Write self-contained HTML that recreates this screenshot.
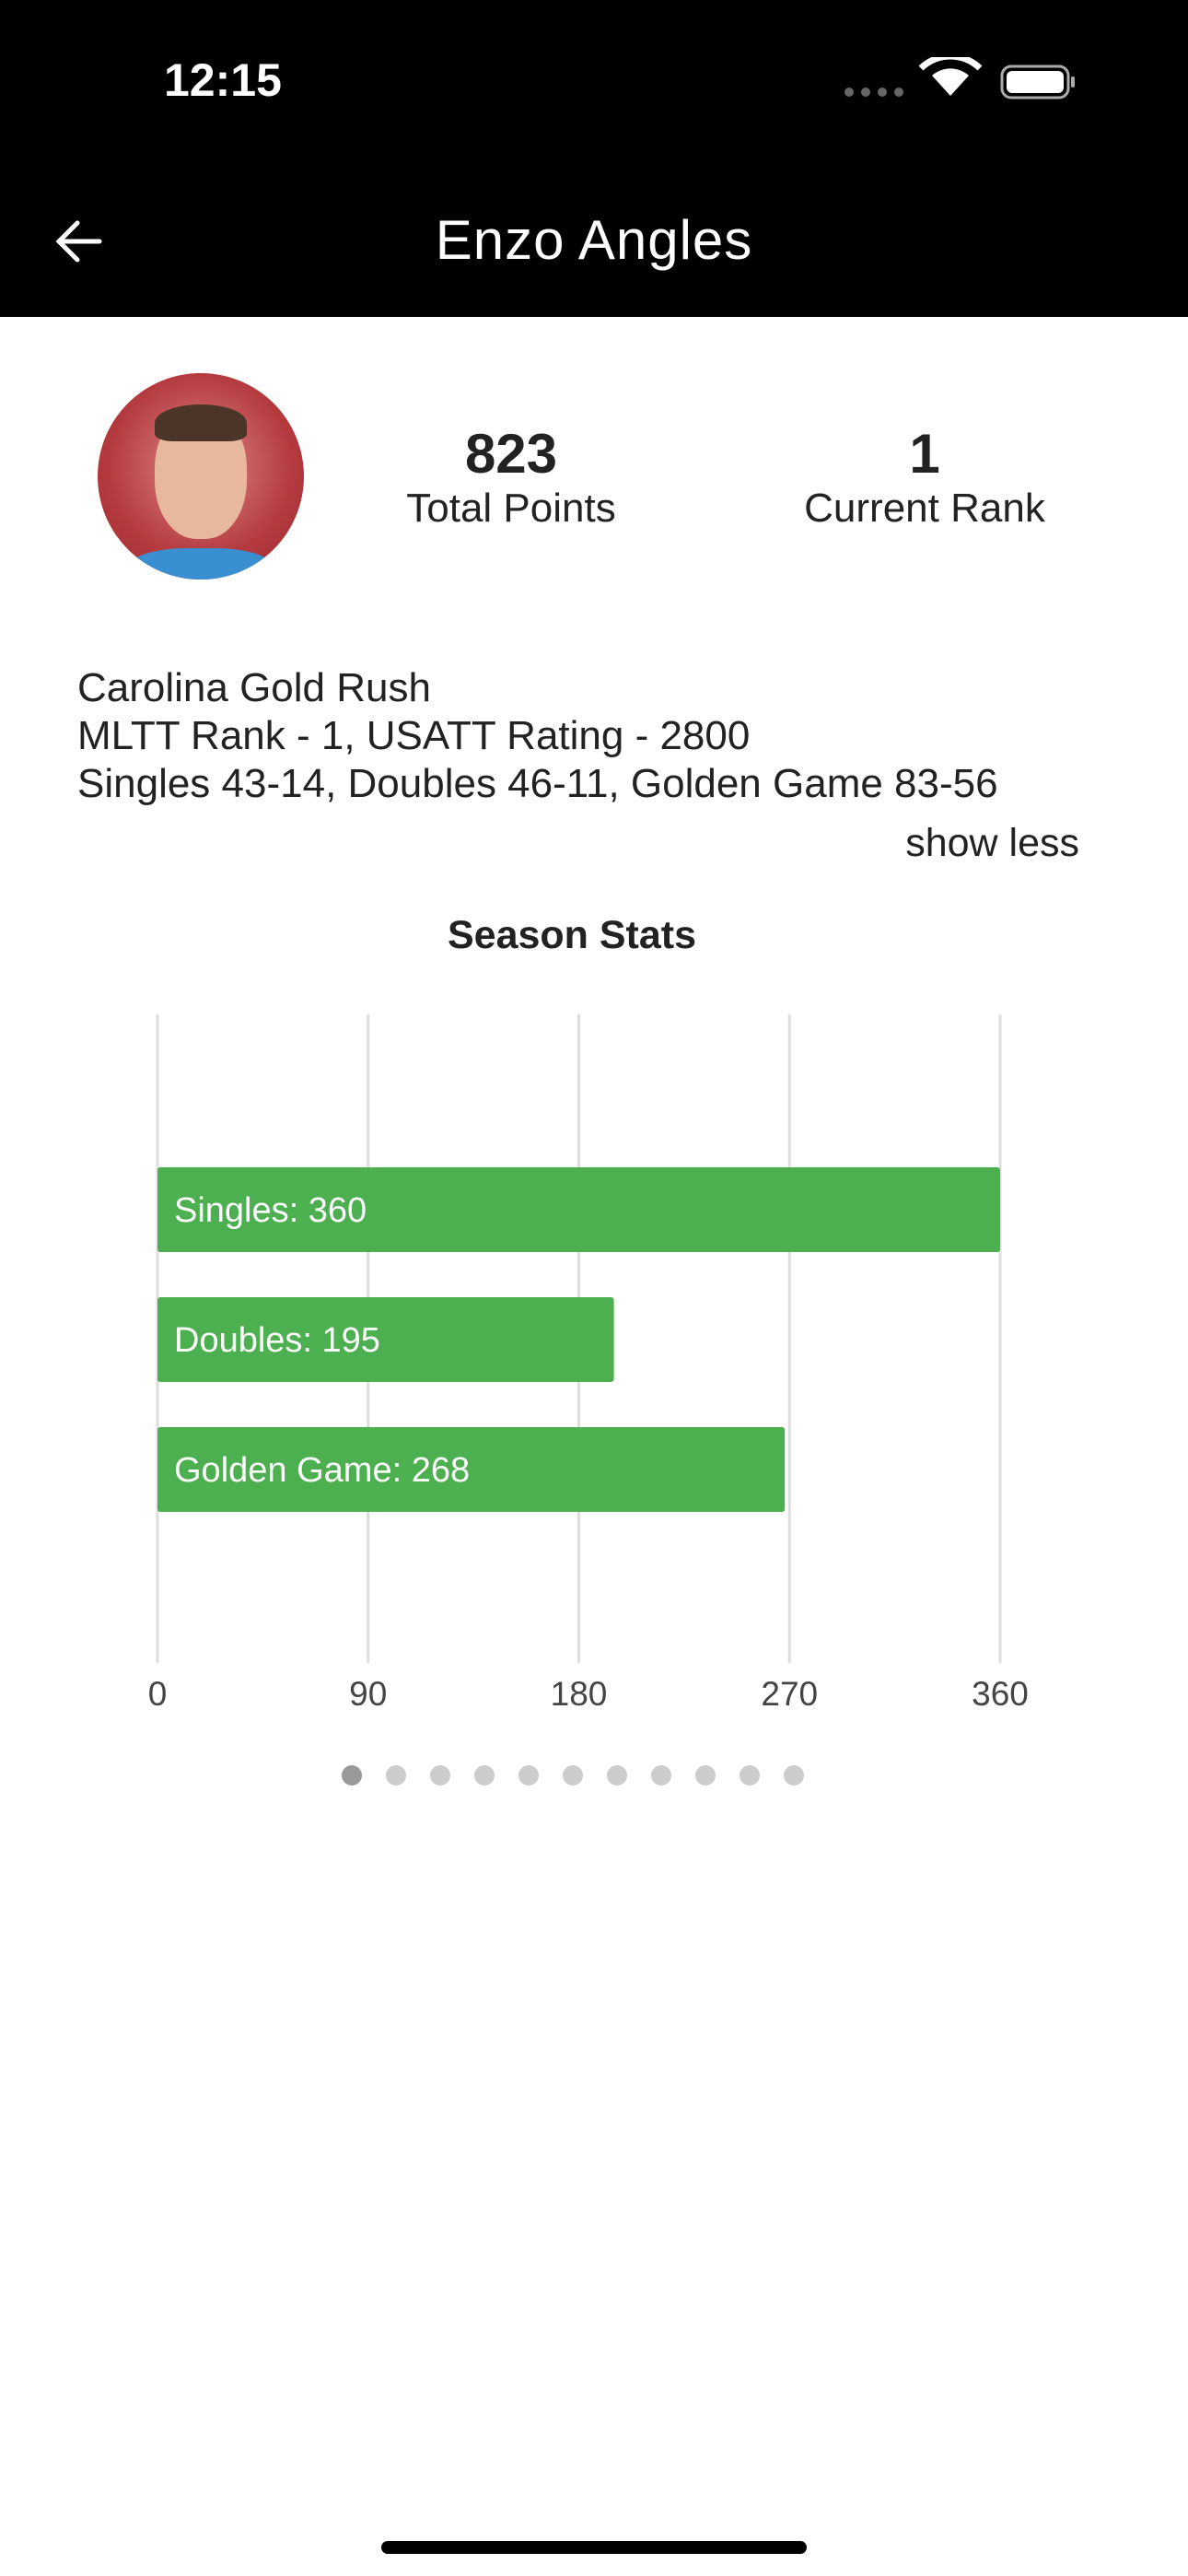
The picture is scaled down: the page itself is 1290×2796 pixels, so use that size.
<!DOCTYPE html>
<html><head><meta charset="utf-8">
<style>
html,body{margin:0;padding:0;}
body{width:1290px;height:2796px;background:#fff;position:relative;overflow:hidden;font-family:"Liberation Sans",sans-serif;color:#222;}
.abs{position:absolute;}
</style></head>
<body>
<div class="abs" style="left:0;top:0;width:1290px;height:344px;background:#000;"></div>
<div class="abs" style="left:178px;top:58px;color:#fff;font-size:50px;font-weight:bold;">12:15</div>
<svg class="abs" style="left:910px;top:62px" width="270" height="50">
  <g fill="#666"><circle cx="12" cy="38" r="5"/><circle cx="30" cy="38" r="5"/><circle cx="48" cy="38" r="5"/><circle cx="66" cy="38" r="5"/></g>
  <path d="M122 42 L102 20 A30 30 0 0 1 142 20 Z" fill="#fff"/>
  <path d="M90 12 A46 46 0 0 1 154 12" stroke="#fff" stroke-width="7" fill="none"/>
  <rect x="178" y="10" width="72" height="34" rx="10" fill="none" stroke="#aaa" stroke-width="3"/>
  <rect x="183" y="15" width="62" height="24" rx="6" fill="#fff"/>
  <rect x="253" y="21" width="4" height="12" rx="2" fill="#aaa"/>
</svg>
<svg class="abs" style="left:58px;top:236px" width="54" height="52">
  <path d="M50 26 H6 M26 6 L6 26 L26 46" stroke="#fff" stroke-width="5" fill="none" stroke-linecap="round"/>
</svg>
<div class="abs" style="left:0;width:1290px;top:226px;text-align:center;color:#fff;font-size:60px;letter-spacing:1px;">Enzo Angles</div>

<div class="abs" style="left:106px;top:405px;width:224px;height:224px;border-radius:50%;background:radial-gradient(circle at 50% 45%,#d88,#b43a3e 60%,#9c2c30);overflow:hidden;">
  <div style="position:absolute;left:62px;top:40px;width:100px;height:140px;border-radius:45%;background:#e7b89e;"></div>
  <div style="position:absolute;left:62px;top:34px;width:100px;height:40px;border-radius:50% 50% 20% 20%;background:#4a3528;"></div>
  <div style="position:absolute;left:30px;top:190px;width:164px;height:60px;background:#3a8fd0;border-radius:40% 40% 0 0;"></div>
</div>

<div class="abs" style="left:405px;width:300px;top:458px;text-align:center;font-size:60px;font-weight:bold;">823</div>
<div class="abs" style="left:405px;width:300px;top:527px;text-align:center;font-size:44px;">Total Points</div>
<div class="abs" style="left:854px;width:300px;top:458px;text-align:center;font-size:60px;font-weight:bold;">1</div>
<div class="abs" style="left:854px;width:300px;top:527px;text-align:center;font-size:44px;">Current Rank</div>

<div class="abs" style="left:84px;top:721px;font-size:44px;line-height:52px;">Carolina Gold Rush<br>MLTT Rank - 1, USATT Rating - 2800<br>Singles 43-14, Doubles 46-11, Golden Game 83-56</div>
<div class="abs" style="right:118px;top:891px;font-size:43px;">show less</div>
<div class="abs" style="left:0;width:1242px;top:991px;text-align:center;font-size:43px;font-weight:bold;">Season Stats</div>

<svg class="abs" id="chart" style="left:0;top:0" width="1290" height="1900"></svg>

<div class="abs" id="dots" style="left:0;top:0;"></div>
<div class="abs" style="left:414px;top:2758px;width:462px;height:14px;border-radius:7px;background:#000;"></div>

<script>
const categories=["Singles","Doubles","Golden Game"];
const values=[360,195,268];
const ticks=[0,90,180,270,360];
const ns="http://www.w3.org/2000/svg";
const svg=document.getElementById('chart');
const x0=171,x1=1086,vmax=360,yTop=1101,yBottom=1805;
const xs=v=>x0+(v/vmax)*(x1-x0);
const barTop=[1267,1408,1549],barH=92;
function mk(t,a){const e=document.createElementNS(ns,t);for(const k in a)e.setAttribute(k,a[k]);svg.appendChild(e);return e;}
ticks.forEach((t,i)=>{
  const l=mk('line',{x1:xs(t),x2:xs(t),y1:yTop,y2:yBottom,stroke:'#ddd','stroke-width':3});
  
  
  const tx=mk('text',{x:xs(t),y:1851,'text-anchor':'middle','font-size':37,fill:'#444','font-family':'Liberation Sans, sans-serif'});
  tx.textContent=t;
  
  
});
categories.forEach((c,i)=>{
  const r=mk('rect',{x:x0,y:barTop[i],width:xs(values[i])-x0,height:barH,fill:'#4caf50',rx:3});
  
  
  const tx=mk('text',{x:x0+18,y:barTop[i]+barH/2+13,'font-size':38,fill:'#fff','font-family':'Liberation Sans, sans-serif'});
  tx.textContent=c+': '+values[i];
  
  
});
const dots=document.getElementById('dots');
for(let i=0;i<11;i++){
  const d=document.createElement('div');
  
  
  d.style.cssText='position:absolute;left:'+(382+i*48-11)+'px;top:1916px;width:22px;height:22px;border-radius:50%;background:'+(i==0?'#999':'#ccc');
  dots.appendChild(d);
}
</script>
</body></html>
